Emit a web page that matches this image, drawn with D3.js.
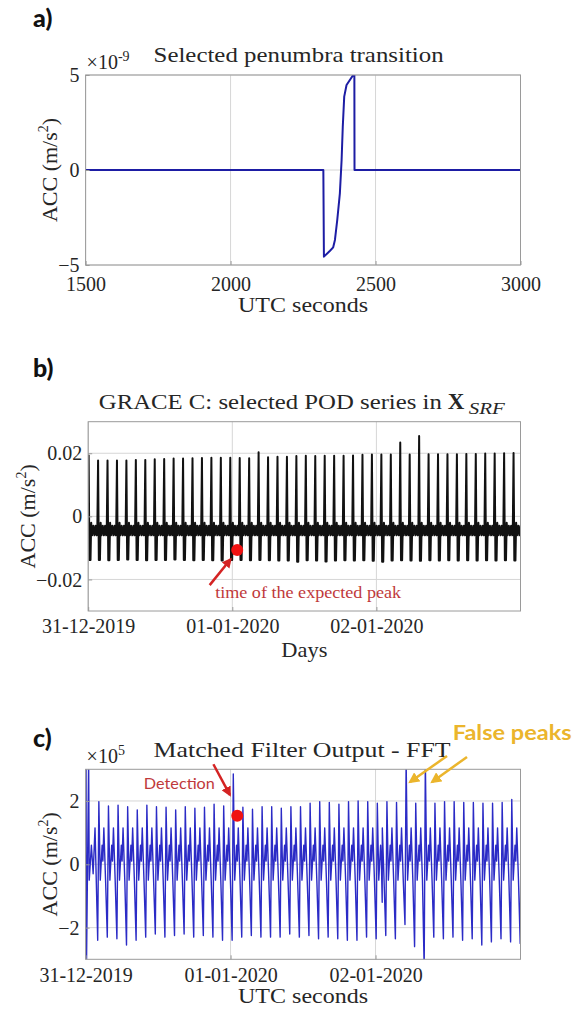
<!DOCTYPE html>
<html>
<head>
<meta charset="utf-8">
<script src="https://cdn.jsdelivr.net/npm/d3@7"></script>
<style>
	body { margin: 0; background: #fff; }
	svg text { font-family: "Liberation Serif", serif; fill: #262626; }
</style>
</head>
<body>
<div id="wrapper"></div>
<script>
// a) selected penumbra transition (UTC seconds, ACC in 1e-9 m/s^2)
const transitionTime = [1500, 2320, 2322, 2343, 2354, 2360, 2368, 2377, 2383, 2387, 2392, 2400, 2423, 2427, 2427.5, 3000];
const transitionAcc = [0, 0, -4.56, -4.25, -4.07, -3.68, -2.63, -1.23, 0.53, 2.28, 3.86, 4.47, 5.0, 5.08, 0, 0];
const secondsTicks = [1500, 2000, 2500, 3000];
const transitionTicks = [-5, 0, 5];

// b) GRACE C POD series, one entry per orbit (days after 31-12-2019)
const dayTicks = ["31-12-2019", "01-01-2020", "02-01-2020"];
const podFirstPeak = 0.003;
const podPeriod = 0.06553;
const podPeaks = [
	0.0195, 0.0177, 0.0177, 0.0177, 0.0177, 0.0179, 0.0179, 0.0181, 0.0182, 0.0183,
	0.0183, 0.0184, 0.0185, 0.0186, 0.0186, 0.0186, 0.0185, 0.0184, 0.0203, 0.0187,
	0.0189, 0.0189, 0.0191, 0.0192, 0.0191, 0.0192, 0.0192, 0.0192, 0.0193, 0.0195,
	0.0196, 0.0196, 0.0196, 0.0234, 0.0196, 0.0255, 0.0197, 0.0197, 0.0197, 0.0197,
	0.0198, 0.0198, 0.0199, 0.0199, 0.02, 0.0201,
];
const podLows = [
	-0.0138, -0.0138, -0.0139, -0.0138, -0.0137, -0.0138, -0.0139, -0.0138, -0.0138, -0.0137,
	-0.0138, -0.0139, -0.0138, -0.0139, -0.014, -0.0138, -0.0138, -0.0139, -0.0138, -0.0139,
	-0.014, -0.014, -0.0144, -0.0139, -0.014, -0.0143, -0.014, -0.0139, -0.014, -0.0139,
	-0.0141, -0.0144, -0.014, -0.0139, -0.014, -0.0141, -0.0139, -0.014, -0.0139, -0.014,
	-0.0139, -0.014, -0.0139, -0.014, -0.0139, -0.014,
];
// waveform between two peaks: [phase, value] ("low" = orbit minimum)
const podShape = [
	[0.08, "low"], [0.2, "low"], [0.27, -0.002], [0.37, -0.006], [0.5, -0.003],
	[0.62, -0.006], [0.74, -0.003], [0.86, -0.006], [0.92, -0.004],
];
const podTicks = [-0.02, 0, 0.02];

// c) matched filter output (x1e5)
const mfFirstPeak = 0.0914;
const mfPeriod = 0.06624;
const mfPeaks = [
	1.98, 1.84, 1.87, 1.82, 1.72, 1.87, 1.82, 1.8, 1.72, 1.82,
	1.77, 1.8, 1.9, 1.84, 2.85, 1.8, 1.74, 1.82, 1.82, 1.77,
	1.82, 1.82, 1.93, 1.98, 1.95, 1.9, 1.98, 2.0, 1.98, 1.93,
	1.98, 1.95, 3.3, 1.93, 3.3, 1.93, 1.98, 1.98, 1.95, 1.95,
	1.93, 1.93, 1.95, 2.05, 1.98,
];
const mfTroughs = [
	-2.4, -2.3, -2.35, -2.55, -2.4, -2.3, -2.2, -2.3, -2.25, -2.2,
	-2.3, -2.25, -2.3, -2.4, -2.4, -2.3, -2.25, -2.3, -2.3, -2.3,
	-2.2, -2.3, -2.25, -2.35, -2.3, -2.35, -2.4, -2.4, -2.3, -2.35,
	-2.25, -2.35, -1.9, -2.6, -3.3, -2.3, -2.35, -2.3, -2.4, -2.35,
	-2.55, -2.45, -2.35, -2.45, -2.5,
];
const mfTroughPhase = -0.12;
const mfShape = [[0.15, -0.5], [0.34, 0.6], [0.42, 0.1], [0.52, 1.15], [0.7, -0.5]];
const mfStart = [[0, 0.6], [0.003, 3.3], [0.006, -3.3], [0.021, 3.3], [0.025, -0.5], [0.04, 0.6], [0.052, -0.3], [0.065, 1.15]];
const mfExtra = [[2.046, -1.2]];
const mfTicks = [-2, 0, 2];

// annotations (data units)
const expectedPeak = { day: 1.034, value: -0.0107 };
const expectedArrow = { from: [0.843, -0.0218], to: [0.988, -0.0136] };
const expectedLabel = { day: 0.881, value: -0.026, text: "time of the expected peak" };
const detectionPoint = { day: 1.046, value: 1.535 };
const detectionArrow = { from: [0.8816, 3.16], to: [0.9954, 2.19] };
const detectionLabel = { day: 0.402, value: 2.37, text: "Detection" };
const falseArrows = [
	{ from: [2.493, 3.42], to: [2.238, 2.6] },
	{ from: [2.631, 3.39], to: [2.39, 2.6] },
];
const falseLabel = { day: 2.532, value: 3.93, text: "False peaks" };

// build the series
const day0 = Date.UTC(2019, 11, 31);
const toDate = (d) => new Date(day0 + d * 864e5);

const transition = transitionTime.map((t, i) => ({ x: t, y: transitionAcc[i] }));

const podSeries = [];
podPeaks.forEach((peak, i) => {
	const t0 = podFirstPeak + i * podPeriod;
	podSeries.push({ x: t0, y: peak });
	podShape.forEach(([phase, v]) => {
		podSeries.push({ x: t0 + phase * podPeriod, y: v === "low" ? podLows[i] : v });
	});
});

let mfSeries = mfStart.map(([d, v]) => ({ x: d, y: v }));
mfPeaks.forEach((peak, i) => {
	const t0 = mfFirstPeak + i * mfPeriod;
	mfSeries.push({ x: t0 + mfTroughPhase * mfPeriod, y: mfTroughs[i] });
	mfSeries.push({ x: t0, y: peak });
	mfShape.forEach(([phase, v]) => mfSeries.push({ x: t0 + phase * mfPeriod, y: v }));
});
mfExtra.forEach(([d, v]) => mfSeries.push({ x: d, y: v }));
mfSeries.sort((a, b) => a.x - b.x);

// 1. canvas
const svg = d3.select("#wrapper").append("svg").attr("width", 574).attr("height", 1014);
const defs = svg.append("defs");

const addHead = (id, color, size) =>
	defs
		.append("marker")
		.attr("id", id)
		.attr("viewBox", "0 0 10 10")
		.attr("refX", 8)
		.attr("refY", 5)
		.attr("markerWidth", size)
		.attr("markerHeight", size)
		.attr("markerUnits", "userSpaceOnUse")
		.attr("orient", "auto")
		.append("path")
		.attr("d", "M0,0L10,5L0,10z")
		.attr("fill", color);
addHead("head-red", "#d42323", 10);
addHead("head-yellow", "#ebb52c", 11);

const fit = (sel, w) => sel.attr("textLength", w).attr("lengthAdjust", "spacingAndGlyphs");

// 2. one panel: grid, clipped line, box, ticks and labels
const drawPanel = (p) => {
	const g = svg.append("g").attr("transform", `translate(${p.left}, ${p.top})`);
	const w = p.width;
	const h = p.height;

	g.append("g")
		.selectAll("line.gx")
		.data(p.xTicks)
		.join("line")
		.attr("x1", (d) => p.x(d))
		.attr("x2", (d) => p.x(d))
		.attr("y1", 0)
		.attr("y2", h)
		.attr("stroke", "#d6d6d6");
	g.append("g")
		.selectAll("line.gy")
		.data(p.yTicks)
		.join("line")
		.attr("x1", 0)
		.attr("x2", w)
		.attr("y1", (d) => p.y(d))
		.attr("y2", (d) => p.y(d))
		.attr("stroke", "#d6d6d6");

	defs.append("clipPath").attr("id", `clip-${p.id}`).append("rect").attr("width", w).attr("height", h);

	const line = d3
		.line()
		.x((d) => p.x(p.xAcc(d)))
		.y((d) => p.y(d.y));
	g.append("path")
		.attr("clip-path", `url(#clip-${p.id})`)
		.attr("d", line(p.data))
		.attr("fill", "none")
		.attr("stroke", p.color)
		.attr("stroke-width", p.strokeWidth)
		.attr("stroke-linejoin", "round");

	g.append("rect").attr("width", w).attr("height", h).attr("fill", "none").attr("stroke", "#9a9a9a");

	const xAxis = g
		.append("g")
		.attr("transform", `translate(0, ${h})`)
		.call(d3.axisBottom(p.x).tickValues(p.xTicks).tickFormat(p.xFormat).tickSizeInner(-4).tickSizeOuter(0));
	xAxis.select(".domain").remove();
	xAxis.selectAll("line").attr("stroke", "#9a9a9a");
	xAxis.selectAll("text").attr("y", p.xLabelGap).attr("dy", 0).attr("font-size", 20);

	const yAxis = g
		.append("g")
		.call(d3.axisLeft(p.y).tickValues(p.yTicks).tickFormat(p.yFormat).tickSizeInner(-4).tickSizeOuter(0).tickPadding(6));
	yAxis.select(".domain").remove();
	yAxis.selectAll("line").attr("stroke", "#9a9a9a");
	yAxis.selectAll("text").attr("font-size", 20).attr("dy", "0.33em");

	// axis titles
	g.append("text")
		.attr("x", w / 2)
		.attr("y", h + p.xTitleY)
		.attr("text-anchor", "middle")
		.attr("font-size", 22)
		.text(p.xTitle)
		.call(fit, p.xTitleW);

	const yt = g
		.append("text")
		.attr("transform", `translate(${p.yTitleX}, ${h / 2}) rotate(-90)`)
		.attr("text-anchor", "middle")
		.attr("font-size", 22);
	yt.append("tspan").text("ACC (m/s");
	yt.append("tspan").attr("dy", -9).attr("font-size", 14).text("2");
	yt.append("tspan").attr("dy", 9).text(")");

	// panel letter
	svg.append("text")
		.attr("x", 33)
		.attr("y", p.letterY)
		.style("font-family", "Lato, sans-serif")
		.style("font-weight", "900")
		.style("fill", "#111")
		.attr("font-size", 25)
		.text(p.letter);

	return g;
};

const exponent = (g, power) => {
	const t = g.append("text").attr("x", 1).attr("y", -6).attr("font-size", 20);
	t.append("tspan").text("×10");
	t.append("tspan").attr("dy", -8).attr("font-size", 14).text(power);
};

// 3. panel a
const xA = d3.scaleLinear().domain([1500, 3000]).range([0, 434.9]);
const yA = d3.scaleLinear().domain([-5, 5]).range([190, 0]);
const gA = drawPanel({
	id: "a",
	letter: "a)",
	letterY: 27,
	left: 85.6,
	top: 75,
	width: 434.9,
	height: 190,
	x: xA,
	y: yA,
	xAcc: (d) => d.x,
	data: transition,
	color: "#1d1da4",
	strokeWidth: 2,
	xTicks: secondsTicks,
	yTicks: transitionTicks,
	xFormat: d3.format("d"),
	yFormat: d3.format("d"),
	xLabelGap: 26,
	xTitle: "UTC seconds",
	xTitleY: 47,
	xTitleW: 130,
	yTitleX: -29,
});
gA.append("text").attr("x", 68).attr("y", -13).attr("font-size", 22).text("Selected penumbra transition").call(fit, 290);
exponent(gA, "-9");

// 4. panel b
const xB = d3.scaleUtc().domain([toDate(0), toDate(3)]).range([0, 432.3]);
const yB = d3.scaleLinear().domain([-0.03, 0.03]).range([189.3, 0]);
const dayDates = dayTicks.map((s) => d3.utcParse("%d-%m-%Y")(s));
const gB = drawPanel({
	id: "b",
	letter: "b)",
	letterY: 377,
	left: 88.2,
	top: 421.7,
	width: 432.3,
	height: 189.3,
	x: xB,
	y: yB,
	xAcc: (d) => toDate(d.x),
	data: podSeries,
	color: "#111",
	strokeWidth: 2,
	xTicks: dayDates,
	yTicks: podTicks,
	xFormat: d3.utcFormat("%d-%m-%Y"),
	yFormat: (d) => (d === 0 ? "0" : d3.format(".2f")(d)),
	xLabelGap: 22,
	xTitle: "Days",
	xTitleY: 46,
	xTitleW: 46,
	yTitleX: -53,
});
const titleB = gB.append("g").attr("transform", "translate(10.6, -12.7)");
titleB.append("text").attr("font-size", 22).text("GRACE C: selected POD series in").call(fit, 343);
titleB.append("text").attr("x", 349).attr("font-size", 23).attr("font-weight", "bold").text("X");
titleB.append("text").attr("x", 370).attr("y", 5).attr("font-size", 17).attr("font-style", "italic").text("SRF").call(fit, 36);

gB.append("line")
	.attr("x1", xB(toDate(expectedArrow.from[0])))
	.attr("y1", yB(expectedArrow.from[1]))
	.attr("x2", xB(toDate(expectedArrow.to[0])))
	.attr("y2", yB(expectedArrow.to[1]))
	.attr("stroke", "#d42323")
	.attr("stroke-width", 2.5)
	.attr("marker-end", "url(#head-red)");
gB.append("circle")
	.attr("cx", xB(toDate(expectedPeak.day)))
	.attr("cy", yB(expectedPeak.value))
	.attr("r", 6)
	.attr("fill", "#f01212");
gB.append("text")
	.attr("x", xB(toDate(expectedLabel.day)))
	.attr("y", yB(expectedLabel.value))
	.attr("font-size", 16)
	.style("fill", "#c0393b")
	.text(expectedLabel.text)
	.call(fit, 186);

// 5. panel c
const xC = d3.scaleUtc().domain([toDate(0), toDate(3)]).range([0, 434.9]);
const yC = d3.scaleLinear().domain([-3, 3]).range([190, 0]);
const gC = drawPanel({
	id: "c",
	letter: "c)",
	letterY: 747,
	left: 85.6,
	top: 769.3,
	width: 434.9,
	height: 190,
	x: xC,
	y: yC,
	xAcc: (d) => toDate(d.x),
	data: mfSeries,
	color: "#2b2bc6",
	strokeWidth: 1.4,
	xTicks: dayDates,
	yTicks: mfTicks,
	xFormat: d3.utcFormat("%d-%m-%Y"),
	yFormat: d3.format("d"),
	xLabelGap: 23,
	xTitle: "UTC seconds",
	xTitleY: 44,
	xTitleW: 130,
	yTitleX: -29,
});
gC.append("text").attr("x", 68).attr("y", -12).attr("font-size", 22).text("Matched Filter Output - FFT").call(fit, 297);
exponent(gC, "5");

gC.append("line")
	.attr("x1", xC(toDate(detectionArrow.from[0])))
	.attr("y1", yC(detectionArrow.from[1]))
	.attr("x2", xC(toDate(detectionArrow.to[0])))
	.attr("y2", yC(detectionArrow.to[1]))
	.attr("stroke", "#d42323")
	.attr("stroke-width", 2.5)
	.attr("marker-end", "url(#head-red)");
gC.append("circle")
	.attr("cx", xC(toDate(detectionPoint.day)))
	.attr("cy", yC(detectionPoint.value))
	.attr("r", 6)
	.attr("fill", "#f01212");
gC.append("text")
	.attr("x", xC(toDate(detectionLabel.day)))
	.attr("y", yC(detectionLabel.value))
	.style("font-family", "Lato, sans-serif")
	.attr("font-size", 15)
	.style("fill", "#c0393b")
	.text(detectionLabel.text)
	.call(fit, 71);

gC.selectAll("line.false")
	.data(falseArrows)
	.join("line")
	.attr("class", "false")
	.attr("x1", (d) => xC(toDate(d.from[0])))
	.attr("y1", (d) => yC(d.from[1]))
	.attr("x2", (d) => xC(toDate(d.to[0])))
	.attr("y2", (d) => yC(d.to[1]))
	.attr("stroke", "#ebb52c")
	.attr("stroke-width", 2.5)
	.attr("marker-end", "url(#head-yellow)");
gC.append("text")
	.attr("x", xC(toDate(falseLabel.day)))
	.attr("y", yC(falseLabel.value))
	.style("font-family", "Lato, sans-serif")
	.style("font-weight", "bold")
	.attr("font-size", 21)
	.style("fill", "#ebb52c")
	.text(falseLabel.text)
	.call(fit, 119);
</script>
</body>
</html>
